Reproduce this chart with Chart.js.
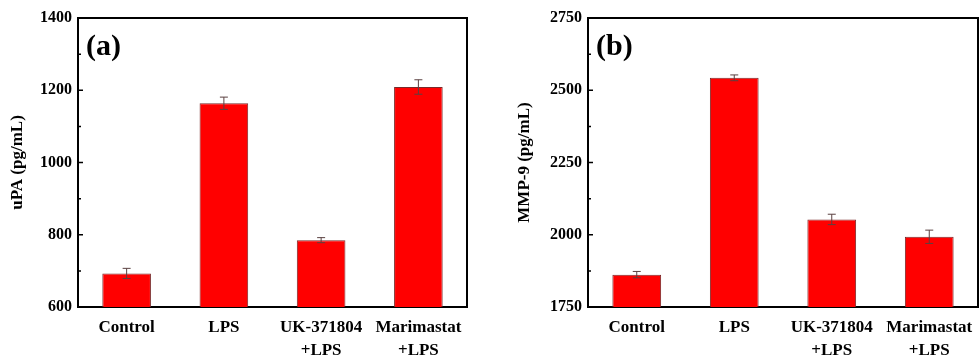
<!DOCTYPE html>
<html>
<head>
<meta charset="utf-8">
<script src="https://cdn.jsdelivr.net/npm/chart.js@4/dist/chart.umd.min.js"></script>
<style>
    html, body { margin: 0; padding: 0; background: #fff; }
    #wrap { position: relative; width: 979px; height: 361px; }
    .panel { position: absolute; top: 0; height: 361px; }
    #pa { left: 0; width: 480px; }
    #pb { left: 480px; width: 499px; }
</style>
</head>
<body>
<div id="wrap">
    <div class="panel" id="pa"><canvas id="barA"></canvas></div>
    <div class="panel" id="pb"><canvas id="barB"></canvas></div>
</div>
<script>
// groups shown in both panels
const groups = ['Control', 'LPS', ['UK-371804', '+LPS'], ['Marimastat', '+LPS']];

// panel (a) uPA
const upaMean = [693, 1164, 785, 1209];
const upaErr = [14, 17, 7, 20];
const upaTicks = [600, 800, 1000, 1200, 1400];

// panel (b) MMP-9
const mmpMean = [1862, 2543, 2053, 1993];
const mmpErr = [11, 10, 18, 23];
const mmpTicks = [1750, 2000, 2250, 2500, 2750];

const serif = '"Liberation Serif", "Times New Roman", serif';

// error bars, inward ticks, top/right frame and the panel letter
const extras = {
    id: 'extras',
    afterDatasetsDraw(chart, args, opts) {
        const ctx = chart.ctx;
        const y = chart.scales.y;
        const meta = chart.getDatasetMeta(0);
        const ds = chart.data.datasets[0];
        ctx.save();
        ctx.strokeStyle = '#5a4040';
        ctx.lineWidth = 1;
        meta.data.forEach((bar, i) => {
            const v = ds.data[i], e = opts.err[i];
            const top = y.getPixelForValue(v + e);
            const bot = y.getPixelForValue(v - e);
            ctx.beginPath();
            ctx.moveTo(bar.x, top); ctx.lineTo(bar.x, bot);
            ctx.moveTo(bar.x - 4, top); ctx.lineTo(bar.x + 4, top);
            ctx.moveTo(bar.x - 4, bot); ctx.lineTo(bar.x + 4, bot);
            ctx.stroke();
        });
        ctx.restore();
    },
    afterDraw(chart, args, opts) {
        const ctx = chart.ctx;
        const a = chart.chartArea;
        const y = chart.scales.y;
        ctx.save();
        ctx.strokeStyle = '#000';
        ctx.lineWidth = 2;
        ctx.beginPath();
        ctx.moveTo(a.left, a.top); ctx.lineTo(a.right, a.top); ctx.lineTo(a.right, a.bottom);
        ctx.stroke();
        ctx.lineWidth = 1.5;
        ctx.beginPath();
        for (let v = y.min; v <= y.max; v += opts.step / 2) {
            const py = y.getPixelForValue(v);
            const len = ((v - y.min) % opts.step === 0) ? 5 : 3;
            ctx.moveTo(a.left, py); ctx.lineTo(a.left + len, py);
        }
        ctx.stroke();
        ctx.fillStyle = '#000';
        ctx.font = 'bold 30px ' + serif;
        ctx.textBaseline = 'middle';
        ctx.fillText(opts.letter, a.left + 8, a.top + 29);
        ctx.restore();
    }
};

function makeChart(id, values, err, ticks, title, letter, axisWidth, titlePad, padRight) {
    const step = ticks[1] - ticks[0];
    return new Chart(document.getElementById(id).getContext('2d'), {
        type: 'bar',
        data: {
            labels: groups,
            datasets: [{
                data: values,
                backgroundColor: '#ff0000',
                borderColor: '#7a2a2a',
                borderWidth: 1,
                categoryPercentage: 1,
                barPercentage: 0.5,
            }],
        },
        options: {
            responsive: true,
            maintainAspectRatio: false,
            animation: false,
            layout: { padding: { top: 18, right: padRight, bottom: 0, left: 0 } },
            plugins: {
                legend: { display: false },
                tooltip: { enabled: false },
                extras: { err: err, step: step, letter: letter },
            },
            scales: {
                x: {
                    afterFit: (s) => { s.height = 54; s.paddingRight = 0; },
                    grid: { display: false, drawTicks: false },
                    border: { display: true, color: '#000', width: 2 },
                    ticks: {
                        color: '#000',
                        padding: 9,
                        maxRotation: 0,
                        autoSkip: false,
                        font: { family: serif, size: 17, weight: 'bold', lineHeight: 1.35 },
                    },
                },
                y: {
                    min: ticks[0],
                    max: ticks[ticks.length - 1],
                    afterBuildTicks: (s) => { s.ticks = ticks.map((v) => ({ value: v })); },
                    afterFit: (s) => { s.width = axisWidth; },
                    grid: { display: false, drawTicks: false },
                    border: { display: true, color: '#000', width: 2 },
                    ticks: {
                        color: '#000',
                        padding: 6,
                        callback: (v) => String(v),
                        font: { family: serif, size: 16, weight: 'bold' },
                    },
                    title: {
                        display: true,
                        text: title,
                        color: '#000',
                        padding: { top: titlePad, bottom: 0 },
                        font: { family: serif, size: 17, weight: 'bold' },
                    },
                },
            },
        },
        plugins: [extras],
    });
}

makeChart('barA', upaMean, upaErr, upaTicks, 'uPA (pg/mL)', '(a)', 78, 7, 13);
makeChart('barB', mmpMean, mmpErr, mmpTicks, 'MMP-9 (pg/mL)', '(b)', 108, 34, 1);
</script>
</body>
</html>
